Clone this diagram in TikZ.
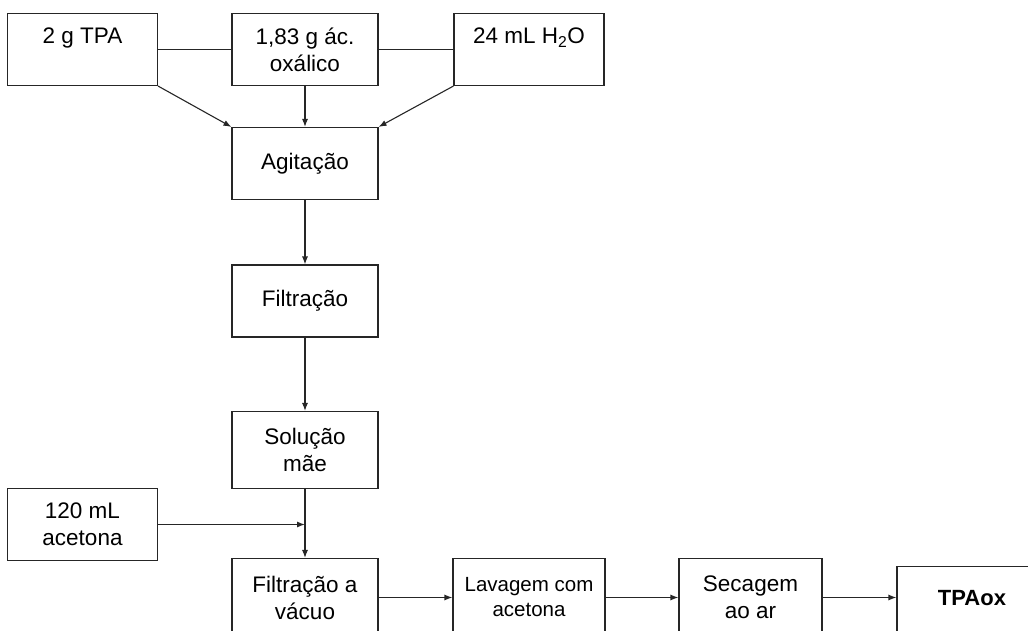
\documentclass[tikz,border=0pt]{standalone}
\usepackage{fontspec}
\setmainfont{Liberation Sans}
\usetikzlibrary{arrows.meta,positioning}

\begin{document}
\begin{tikzpicture}[x=1pt, y=-1pt, font=\fontsize{22.5}{27}\selectfont]
\tikzstyle{main}=[rectangle, draw=black!85, line width=1.1pt, align=center, inner sep=2pt, minimum width=146pt, minimum height=72pt]
\tikzstyle{wide}=[main, minimum width=150pt]
\tikzstyle{tall}=[main, minimum height=78pt]
\tikzstyle{connect}=[-{Latex[length=8pt, width=6pt]}, line width=1.1pt, draw=black!85]
\tikzstyle{plain}=[line width=1.1pt, draw=black!85]

\useasboundingbox (0,0) rectangle (1028,631);

  % reagents
  \node[wide] (tpa)  at (82.5,49.5)                          {2 g TPA\\\mbox{}};
  \node[main] (oxa)  [right of =tpa, node distance=222.5pt]  {1,83 g ác.\\oxálico};
  \node[wide] (agua) [right of =oxa, node distance=224pt]    {24 mL H\textsubscript{2}O\\\mbox{}};

  % main column
  \node[main] (agit) [below of =oxa,  node distance=114pt]   {Agitação};
  \node[main] (filt) [below of =agit, node distance=137.5pt] {Filtração};
  \node[main, minimum height=77pt] (sol) [below of =filt, node distance=149pt] {Solução\\mãe};
  \node[wide] (acet) at (82.5,524.5)                         {120 mL\\acetona};
  \node[tall] (vac)  [below of =sol,  node distance=147.5pt] {Filtração a\\vácuo};

  % bottom row
  \node[tall, minimum width=152pt, font=\fontsize{20.5}{25}\selectfont] (lav) [right of =vac, node distance=224pt] {Lavagem com\\acetona};
  \node[tall, minimum width=143pt] (sec) [right of =lav, node distance=221.5pt] {Secagem\\ao ar};
  \node[wide, minimum height=73pt, text depth=11pt, font=\fontsize{22}{27}\selectfont\bfseries] (tpaox) [right of =sec, node distance=221.5pt, yshift=-5.5pt] {TPAox};

  \coordinate (join) at (sol.south |- acet.east);

  \path (tpa) edge [plain] (oxa);
  \path (oxa) edge [plain] (agua);
  \path (tpa.south east) edge [connect] (agit.north west);
  \path (oxa) edge [connect] (agit);
  \path (agua.south west) edge [connect] (agit.north east);
  \path (agit) edge [connect] (filt);
  \path (filt) edge [connect] (sol);
  \path (sol) edge [connect] (vac);
  \path (acet) edge [connect] (join);
  \path (vac) edge [connect] (lav);
  \path (lav) edge [connect] (sec);
  \path (sec.east) edge [connect] (sec.east -| tpaox.west);

\end{tikzpicture}
\end{document}
